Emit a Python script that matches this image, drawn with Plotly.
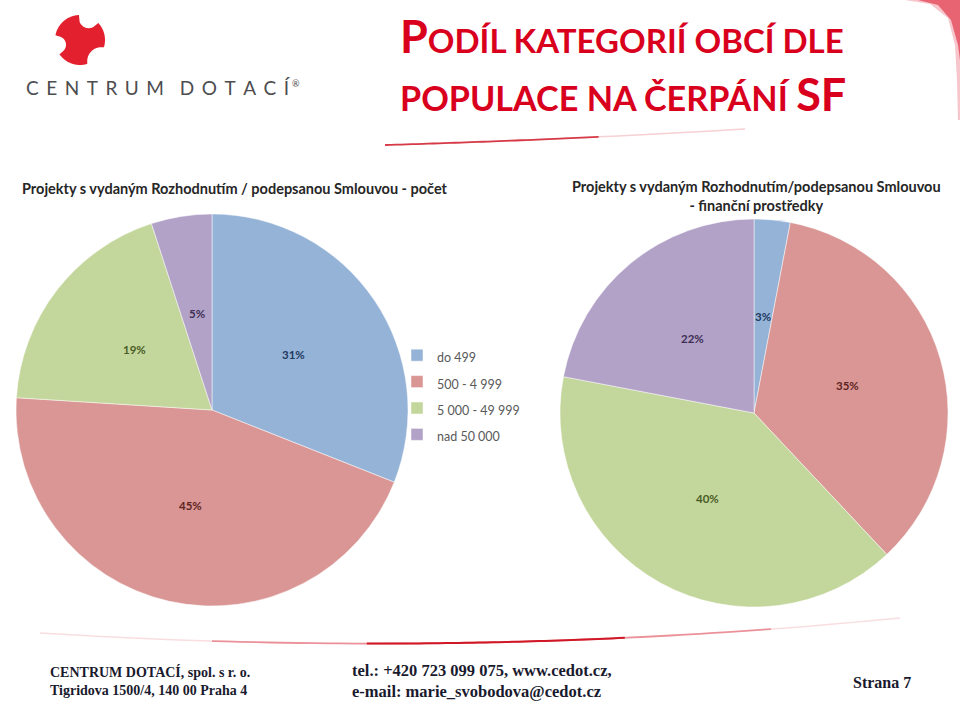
import numpy as np
import plotly.graph_objects as go

W, H = 960, 701

# ---------------- data ----------------
categories = ["do 499", "500 - 4 999", "5 000 - 49 999", "nad 50 000"]
count_share = [31, 45, 19, 5]      # Projekty - počet (%)
funds_share = [3, 35, 40, 22]      # Projekty - finanční prostředky (%)

title_line1 = "PODÍL KATEGORIÍ OBCÍ DLE"
title_line2 = "POPULACE NA ČERPÁNÍ"
title_tail = "SF"
pie1_title = "Projekty s vydaným Rozhodnutím / podepsanou Smlouvou - počet"
pie2_title = "Projekty s vydaným Rozhodnutím/podepsanou Smlouvou<br>- finanční prostředky"
footer_left = "CENTRUM DOTACÍ, spol. s r. o.<br>Tigridova 1500/4, 140 00 Praha 4"
footer_mid = "tel.: +420 723 099 075, www.cedot.cz,<br>e-mail: marie_svobodova@cedot.cz"
footer_right = "Strana 7"
logo_text = "CENTRUM DOTACÍ"

colors = ["#95B3D7", "#D99694", "#C3D69B", "#B3A2C7"]
label_colors = ["#1F3A60", "#5E2422", "#4A5C26", "#3D2F55"]


def px(x):
    return x / W


def py(y):
    return 1 - y / H


legend_labels = [f'<span style="font-size:12.5px">{c}</span>' for c in categories]

fig = go.Figure()

pie_boxes = [
    (count_share, (16, 408), (214, 606), True),
    (funds_share, (560, 948), (219, 607), False),
]

ann = []
for vals, (x0, x1), (y0, y1), show in pie_boxes:
    fig.add_trace(go.Pie(
        values=vals, labels=legend_labels, sort=False, direction="clockwise", rotation=0,
        marker=dict(colors=colors, line=dict(color="rgba(255,255,255,0.6)", width=0.8)),
        textinfo="none", hoverinfo="label+value", showlegend=show,
        domain=dict(x=[px(x0), px(x1)], y=[py(y1), py(y0)]),
    ))
    # data labels placed like Excel: half radius, at each slice's mid angle
    cxp, cyp = (x0 + x1) / 2, (y0 + y1) / 2
    rad = min(x1 - x0, y1 - y0) / 2
    total = float(sum(vals))
    cum = 0.0
    for v, lc in zip(vals, label_colors):
        mid = (cum + v / 2) / total * 2 * np.pi
        cum += v
        lx = cxp + 0.5 * rad * np.sin(mid)
        ly = cyp - 0.5 * rad * np.cos(mid)
        ann.append(dict(x=px(lx), y=py(ly), xanchor="center", yanchor="middle",
                        text=f"{v}%", showarrow=False,
                        font=dict(family="Lato", size=11.5, color=lc, weight="bold")))

# ---------------- logo shape ----------------
cx, cy, R = 80, 40, 25
bites = [(22, 23, 9.5), (258, 23, 8.5), (135, 30, 14)]  # (angle deg from top cw, dist, radius)
pts = []
for th in np.linspace(0, 2 * np.pi, 300, endpoint=False):
    r = R
    for ang, d, b in bites:
        phi = th - np.deg2rad(ang)
        s = d * np.sin(phi)
        c = d * np.cos(phi)
        if abs(s) < b and c > 0:
            t = c - np.sqrt(b * b - s * s)
            r = min(r, t)
    x = cx + r * np.sin(th)
    y = cy - r * np.cos(th)
    pts.append((x, y))
path = "M " + " L ".join(f"{px(x):.5f},{py(y):.5f}" for x, y in pts) + " Z"
shapes = [dict(type="path", xref="paper", yref="paper", path=path,
               fillcolor="#E3202E", line=dict(width=0))]


def qcurve(p0, p1, p2, t0, t1, n=40):
    ts = np.linspace(t0, t1, n)
    xs = (1 - ts) ** 2 * p0[0] + 2 * (1 - ts) * ts * p1[0] + ts ** 2 * p2[0]
    ys = (1 - ts) ** 2 * p0[1] + 2 * (1 - ts) * ts * p1[1] + ts ** 2 * p2[1]
    return "M " + " L ".join(f"{px(x):.5f},{py(y):.5f}" for x, y in zip(xs, ys))


# bottom swoosh
b0, b1, b2 = (40, 633), (470, 660), (900, 618)
shapes.append(dict(type="path", xref="paper", yref="paper", path=qcurve(b0, b1, b2, 0, 1),
                   line=dict(color="rgba(215,30,45,0.15)", width=1.5)))
shapes.append(dict(type="path", xref="paper", yref="paper", path=qcurve(b0, b1, b2, 0.2, 0.85),
                   line=dict(color="rgba(215,30,45,0.4)", width=1.8)))
shapes.append(dict(type="path", xref="paper", yref="paper", path=qcurve(b0, b1, b2, 0.38, 0.68),
                   line=dict(color="rgba(205,10,25,0.9)", width=2)))

# title underline
u0, u1, u2 = (385, 145), (560, 140), (745, 129)
shapes.append(dict(type="path", xref="paper", yref="paper", path=qcurve(u0, u1, u2, 0, 1),
                   line=dict(color="rgba(215,40,55,0.22)", width=1.5)))
shapes.append(dict(type="path", xref="paper", yref="paper", path=qcurve(u0, u1, u2, 0, 0.6),
                   line=dict(color="rgba(205,20,35,0.8)", width=1.8)))

# top-right decorative curve
tr_outer = [(905, 0), (930, 4), (948, 18), (955, 45), (957, 80), (958, 120), (960, 120), (960, 0)]
p = "M " + " L ".join(f"{px(x):.5f},{py(y):.5f}" for x, y in tr_outer) + " Z"
shapes.append(dict(type="path", xref="paper", yref="paper", path=p,
                   fillcolor="rgba(232,90,110,0.35)", line=dict(width=0)))
tr_inner = [(918, 0), (938, 5), (951, 20), (958, 45), (960, 60), (960, 0)]
p = "M " + " L ".join(f"{px(x):.5f},{py(y):.5f}" for x, y in tr_inner) + " Z"
shapes.append(dict(type="path", xref="paper", yref="paper", path=p,
                   fillcolor="rgba(220,20,40,0.55)", line=dict(width=0)))

# ---------------- annotations ----------------
red = "#D9001E"
ann.append(dict(x=px(398), y=py(36), xanchor="left", yanchor="middle",
                text=f'<span style="font-size:45px">{title_line1[0]}</span>{title_line1[1:]}',
                font=dict(family="Lato", size=33, color=red, weight="bold"), showarrow=False))
ann.append(dict(x=px(398), y=py(94), xanchor="left", yanchor="middle",
                text=f'{title_line2} <span style="font-size:45px">{title_tail}</span>',
                font=dict(family="Lato", size=34.2, color=red, weight="bold"), showarrow=False))

spaced = "\u2004\u200a".join(list(logo_text)).replace("\u2004\u200a \u2004\u200a", "\u2002\u2004")
ann.append(dict(x=px(24), y=py(88), xanchor="left", yanchor="middle",
                text=spaced,
                font=dict(family="Lato", size=19, color="#4d4d4f"), showarrow=False))
ann.append(dict(x=px(290), y=py(84), xanchor="left", yanchor="middle",
                text="®",
                font=dict(family="Lato", size=9, color="#4d4d4f"), showarrow=False))

ann.append(dict(x=px(235), y=py(189), xanchor="center", yanchor="middle", text=pie1_title,
                font=dict(family="Lato", size=14.5, color="#262626", weight="bold"), showarrow=False))
ann.append(dict(x=px(756), y=py(196), xanchor="center", yanchor="middle", text=pie2_title,
                font=dict(family="Lato", size=14.5, color="#262626", weight="bold"), showarrow=False))

ann.append(dict(x=px(48), y=py(681), xanchor="left", yanchor="middle", align="left", text=footer_left,
                font=dict(family="Liberation Serif", size=14, color="#1a1a2e", weight="bold"),
                showarrow=False))
ann.append(dict(x=px(350), y=py(681), xanchor="left", yanchor="middle", align="left", text=footer_mid,
                font=dict(family="Liberation Serif", size=16.5, color="#1a1a2e", weight="bold"),
                showarrow=False))
ann.append(dict(x=px(913), y=py(682), xanchor="right", yanchor="middle", text=footer_right,
                font=dict(family="Liberation Serif", size=16, color="#1a1a2e", weight="bold"),
                showarrow=False))

fig.update_layout(
    width=W, height=H,
    margin=dict(l=0, r=0, t=0, b=0),
    paper_bgcolor="white",
    plot_bgcolor="white",
    shapes=shapes,
    annotations=ann,
    showlegend=True,
    legend=dict(x=px(397), y=py(337), xanchor="left", yanchor="top",
                font=dict(family="Lato", size=18, color="#595959"),
                bgcolor="rgba(0,0,0,0)", itemclick=False, itemdoubleclick=False),
)

fig.write_html("out.html")
